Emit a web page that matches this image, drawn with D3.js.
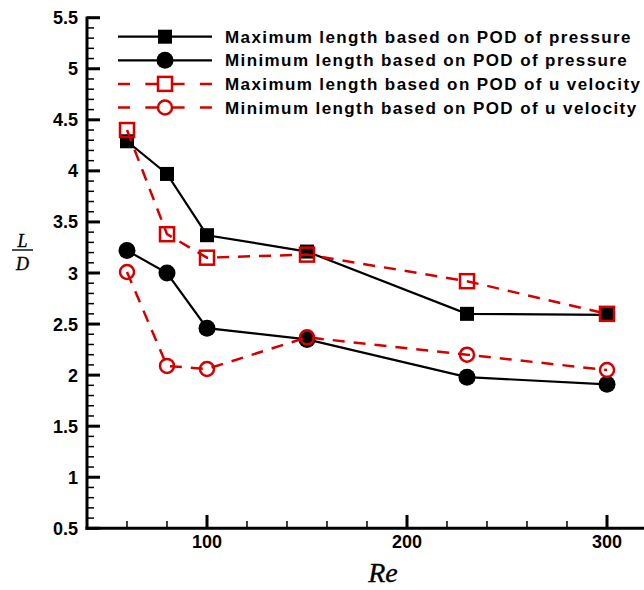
<!DOCTYPE html>
<html>
<head>
<meta charset="utf-8">
<script src="https://cdn.jsdelivr.net/npm/d3@7"></script>
<style>
  html, body { margin: 0; padding: 0; background: #fff; }
  svg { display: block; }
  .tick-label { font-family: "Liberation Sans", Arial, sans-serif; font-weight: bold; font-size: 18px; fill: #000; }
  .legend-label { font-family: "Liberation Sans", Arial, sans-serif; font-weight: bold; font-size: 17px; letter-spacing: 1.4px; fill: #000; }
  .math { font-family: "Liberation Serif", "Times New Roman", serif; font-style: italic; fill: #000; stroke: #000; stroke-width: 0.35px; }
</style>
</head>
<body>
<svg id="chart" width="644" height="590"></svg>
<script>
// Reynolds numbers sampled
const reynolds = [60, 80, 100, 150, 230, 300];

// Recirculation length L/D for each criterion
const maxPressure = [4.29, 3.97, 3.37, 3.21, 2.60, 2.59];
const minPressure = [3.22, 3.00, 2.46, 2.35, 1.98, 1.91];
const maxVelocity = [4.40, 3.38, 3.15, 3.18, 2.92, 2.60];
const minVelocity = [3.01, 2.09, 2.06, 2.37, 2.20, 2.05];

const seriesNames = [
  "Maximum length based on POD of pressure",
  "Minimum length based on POD of pressure",
  "Maximum length based on POD of u velocity",
  "Minimum length based on POD of u velocity"
];

const yMajorTicks = [0.5, 1, 1.5, 2, 2.5, 3, 3.5, 4, 4.5, 5, 5.5];
const xMajorTicks = [100, 200, 300];

const svg = d3.select("#chart");

const x = d3.scaleLinear().domain([40, 320]).range([87, 647]);
const y = d3.scaleLinear().domain([0.5, 5.5]).range([528.3, 17.7]);

const RED = "#d40000";

const series = [
  { name: seriesNames[0], values: maxPressure, color: "#000", dash: null, marker: "square", filled: true, width: 2.2 },
  { name: seriesNames[1], values: minPressure, color: "#000", dash: null, marker: "circle", filled: true, width: 2.2 },
  { name: seriesNames[2], values: maxVelocity, color: RED, dash: "12,9", marker: "square", filled: false, width: 2.5 },
  { name: seriesNames[3], values: minVelocity, color: RED, dash: "12,9", marker: "circle", filled: false, width: 2.5 }
];

// ---- axes ----
const axes = svg.append("g");

// minor y ticks every 0.1
const yMinor = d3.range(5, 56).map(d => d / 10).filter(v => !yMajorTicks.some(m => Math.abs(m - v) < 1e-6));
axes.selectAll(".ymin").data(yMinor).join("line")
  .attr("x1", 87).attr("x2", 94)
  .attr("y1", d => y(d)).attr("y2", d => y(d))
  .attr("stroke", "#000").attr("stroke-width", 1.5);
axes.selectAll(".ymaj").data(yMajorTicks).join("line")
  .attr("x1", 87).attr("x2", 100)
  .attr("y1", d => y(d)).attr("y2", d => y(d))
  .attr("stroke", "#000").attr("stroke-width", 3);
axes.selectAll(".ylab").data(yMajorTicks).join("text")
  .attr("class", "tick-label")
  .attr("x", 78).attr("y", d => y(d) + 6.5)
  .attr("text-anchor", "end")
  .text(d => d3.format("~g")(d));

// minor x ticks every 20
const xMinor = d3.range(60, 321, 20).filter(v => !xMajorTicks.includes(v));
axes.selectAll(".xmin").data(xMinor).join("line")
  .attr("x1", d => x(d)).attr("x2", d => x(d))
  .attr("y1", 528.3).attr("y2", 521)
  .attr("stroke", "#000").attr("stroke-width", 1.5);
axes.selectAll(".xmaj").data(xMajorTicks).join("line")
  .attr("x1", d => x(d)).attr("x2", d => x(d))
  .attr("y1", 528.3).attr("y2", 515)
  .attr("stroke", "#000").attr("stroke-width", 3);
axes.selectAll(".xlab").data(xMajorTicks).join("text")
  .attr("class", "tick-label")
  .attr("x", d => x(d)).attr("y", 548)
  .attr("text-anchor", "middle")
  .text(d => d);

// spines
axes.append("line").attr("x1", 87).attr("x2", 87).attr("y1", 16.5).attr("y2", 529.8)
  .attr("stroke", "#000").attr("stroke-width", 3);
axes.append("line").attr("x1", 85.5).attr("x2", 647).attr("y1", 528.3).attr("y2", 528.3)
  .attr("stroke", "#000").attr("stroke-width", 3);

// axis titles: L/D as a stacked fraction, Re below the x axis
const yTitle = svg.append("g");
yTitle.append("text").attr("class", "math").attr("x", 22.5).attr("y", 246.5)
  .attr("text-anchor", "middle").attr("font-size", 18).text("L");
yTitle.append("line").attr("x1", 12).attr("x2", 33).attr("y1", 250).attr("y2", 250)
  .attr("stroke", "#000").attr("stroke-width", 1.4);
yTitle.append("text").attr("class", "math").attr("x", 22.5).attr("y", 269.5)
  .attr("text-anchor", "middle").attr("font-size", 18).text("D");

svg.append("text").attr("class", "math").attr("x", 383).attr("y", 582)
  .attr("text-anchor", "middle").attr("font-size", 28).text("Re");

// ---- markers ----
function drawMarker(g, s, cx, cy) {
  if (s.marker === "square") {
    const size = 14;
    g.append("rect")
      .attr("x", cx - size / 2).attr("y", cy - size / 2)
      .attr("width", size).attr("height", size)
      .attr("fill", s.filled ? s.color : "none")
      .attr("stroke", s.color).attr("stroke-width", s.filled ? 0 : 2.5);
  } else {
    const r = s.filled ? 8.5 : 7;
    g.append("circle")
      .attr("cx", cx).attr("cy", cy).attr("r", r)
      .attr("fill", s.filled ? s.color : "none")
      .attr("stroke", s.color).attr("stroke-width", s.filled ? 0 : 2.5);
  }
}

const line = d3.line().x((d, i) => x(reynolds[i])).y(d => y(d));

const plot = svg.append("g");
series.forEach(s => {
  const g = plot.append("g");
  g.append("path")
    .attr("d", line(s.values))
    .attr("fill", "none")
    .attr("stroke", s.color)
    .attr("stroke-width", s.width)
    .attr("stroke-dasharray", s.dash);
  s.values.forEach((v, i) => drawMarker(g, s, x(reynolds[i]), y(v)));
});

// ---- legend ----
const legend = svg.append("g");
series.forEach((s, i) => {
  const ly = 36.7 + i * 23.6;
  const g = legend.append("g");
  g.append("line").attr("x1", 118).attr("x2", 212).attr("y1", ly).attr("y2", ly)
    .attr("stroke", s.color).attr("stroke-width", s.width)
    .attr("stroke-dasharray", s.dash ? "12,15.3" : null);
  drawMarker(g, s, 165, ly);
  g.append("text").attr("class", "legend-label")
    .attr("x", 225).attr("y", ly + 6)
    .text(s.name);
});
</script>
</body>
</html>
